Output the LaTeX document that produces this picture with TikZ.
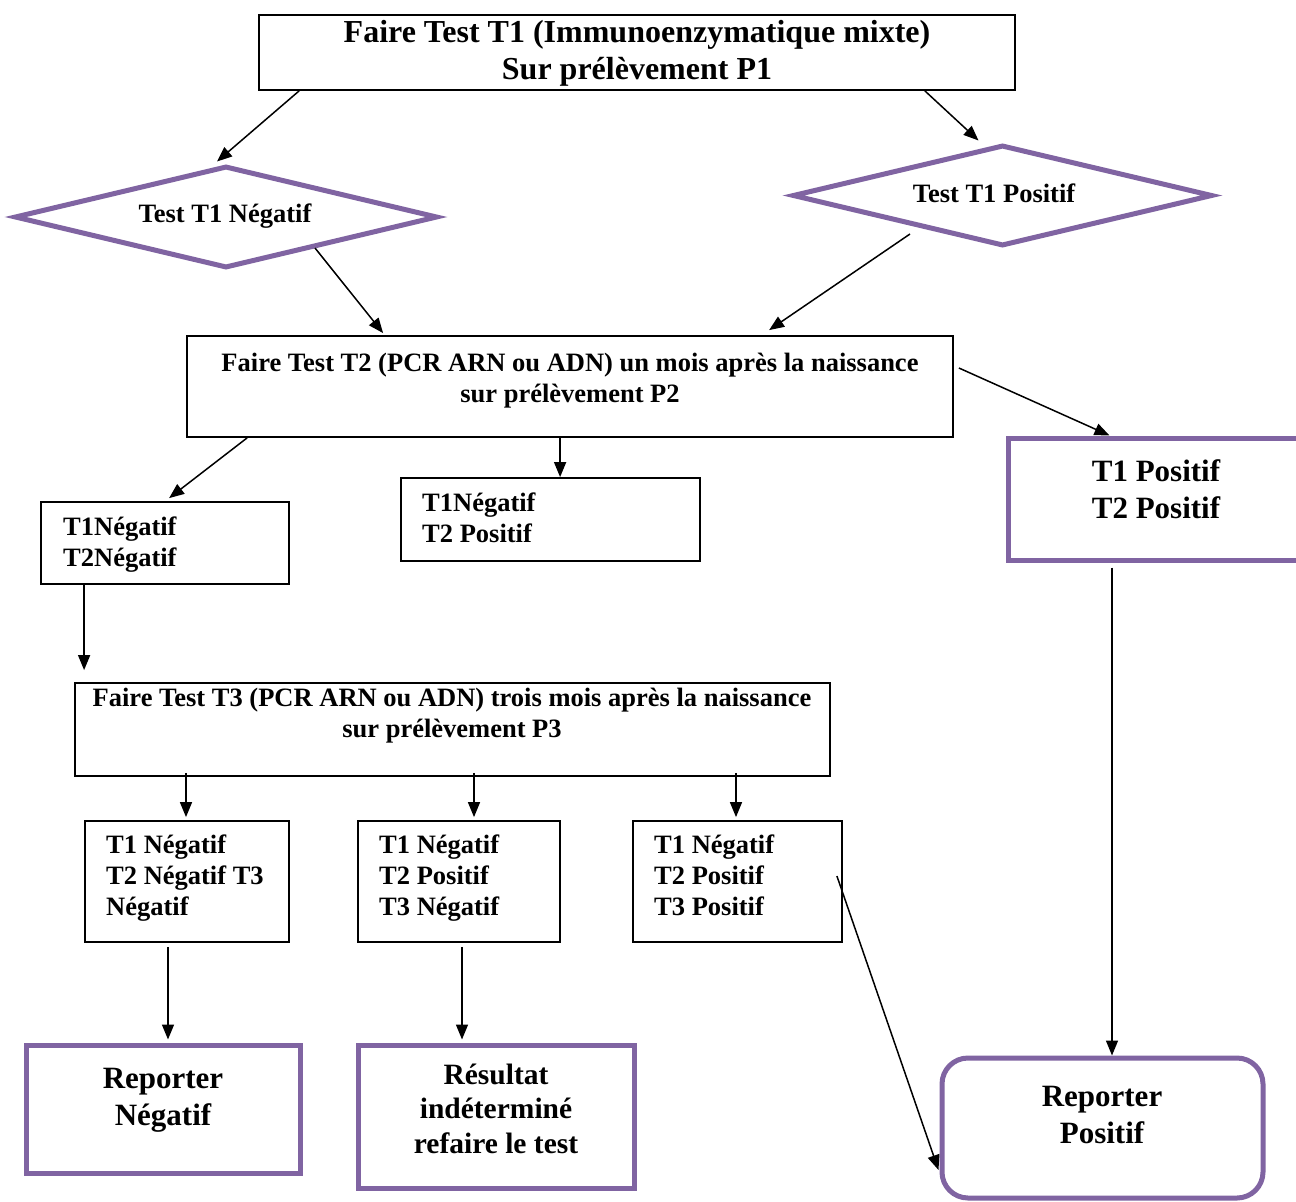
\documentclass[tikz,border=0pt]{standalone}
\usepackage{fontspec}
\setmainfont{Liberation Serif}
\usetikzlibrary{arrows.meta,shapes.geometric,calc}
\definecolor{vio}{RGB}{128,100,162}
\newcommand\fbig{\fontsize{31}{37}\selectfont\bfseries}
\newcommand\ftop{\fontsize{32}{37}\selectfont\bfseries}
\newcommand\fmid{\fontsize{29.5}{34.5}\selectfont\bfseries}
\newcommand\fsml{\fontsize{26.5}{31}\selectfont\bfseries}
\begin{document}
\begin{tikzpicture}[x=1pt,y=-1pt,
  bbox/.style={draw=black,line width=1.8pt,inner sep=0pt,rectangle,fill=none},
  pbox/.style={draw=vio,line width=5pt,inner sep=0pt,rectangle},
  diam/.style={draw=vio,line width=5pt,inner sep=0pt,diamond},
  arr/.style={line width=1.5pt,-{Triangle[length=15pt,width=12pt]}},
  txt/.style={inner sep=0pt}]
\useasboundingbox[fill=white] (0,0) rectangle (1296,1202);

% boxes
\node[bbox,minimum width=756pt,minimum height=75pt] (top) at (637,52.5) {};
\node[diam,minimum width=423pt,minimum height=102pt] (dn) at (226,217) {};
\node[diam,minimum width=420pt,minimum height=101pt] (dp) at (1002.5,195.5) {};
\node[bbox,minimum width=766pt,minimum height=101pt] (t2) at (570,386.5) {};
\node[pbox,minimum width=302pt,minimum height=122pt] (pp) at (1159,499) {};
\node[bbox,minimum width=248pt,minimum height=82pt] (nn) at (165,543) {};
\node[bbox,minimum width=299pt,minimum height=83pt] (np) at (550.5,519.5) {};
\node[bbox,minimum width=755pt,minimum height=93pt] (t3) at (452.5,729.5) {};
\node[bbox,minimum width=204pt,minimum height=121pt] (ba) at (187,881.5) {};
\node[bbox,minimum width=202pt,minimum height=121pt] (bb) at (459,881.5) {};
\node[bbox,minimum width=209pt,minimum height=121pt] (bc) at (737.5,881.5) {};
\node[pbox,minimum width=274pt,minimum height=128pt] (rn) at (163,1109) {};
\node[pbox,minimum width=276pt,minimum height=143pt] (ri) at (496,1116.5) {};
\node[pbox,rounded corners=26pt,minimum width=321pt,minimum height=140pt] (rp) at (1102.5,1128) {};

% texts (anchor=base is the baseline of the last line)
\node[txt,font=\ftop,align=center,anchor=base] (ttop) at (637,79) {Faire Test T1 (Immunoenzymatique mixte)\\Sur prélèvement P1};
\node[txt,font=\fsml,anchor=base] (tdn) at (225,222) {Test T1 Négatif};
\node[txt,font=\fsml,anchor=base] (tdp) at (994,202) {Test T1 Positif};
\node[txt,font=\fsml,align=center,anchor=base] (tt2) at (570,402) {Faire Test T2 (PCR ARN ou ADN) un mois après la naissance\\sur prélèvement P2};
\node[txt,font=\fbig,align=center,anchor=base] (tpp) at (1156,518) {T1 Positif\\T2 Positif};
\node[txt,font=\fsml,align=left,anchor=base west] (tnn) at (63,566) {T1Négatif\\T2Négatif};
\node[txt,font=\fsml,align=left,anchor=base west] (tnp) at (422,542) {T1Négatif\\T2 Positif};
\node[txt,font=\fsml,align=center,anchor=base] (tt3) at (452,737) {Faire Test T3 (PCR ARN ou ADN) trois mois après la naissance\\sur prélèvement P3};
\node[txt,font=\fsml,align=left,anchor=base west] (tba) at (106,915) {T1 Négatif\\T2 Négatif T3\\Négatif};
\node[txt,font=\fsml,align=left,anchor=base west] (tbb) at (379,915) {T1 Négatif\\T2 Positif\\T3 Négatif};
\node[txt,font=\fsml,align=left,anchor=base west] (tbc) at (654,915) {T1 Négatif\\T2 Positif\\T3 Positif};
\node[txt,font=\fbig,align=center,anchor=base] (trn) at (163,1125) {Reporter\\Négatif};
\node[txt,font=\fmid,align=center,anchor=base] (tri) at (496,1153) {Résultat\\indéterminé\\refaire le test};
\node[txt,font=\fbig,align=center,anchor=base] (trp) at (1102,1143) {Reporter\\Positif};

% connectors
\draw[arr] ([xshift=41pt]top.south west) -- ([xshift=-9pt,yshift=2pt]dn.north);
\draw[arr] ([xshift=-91pt]top.south east) -- ([xshift=-24pt,yshift=2pt]dp.north);
\draw[arr] ([xshift=89pt,yshift=-31pt]dn.center) -- ([xshift=197pt,yshift=2pt]t2.north west);
\draw[arr] ([xshift=-92.5pt,yshift=-38.5pt]dp.center) -- ([xshift=583pt,yshift=5pt]t2.north west);
\draw[arr] ([xshift=5pt,yshift=18.5pt]t2.east) -- ([xshift=104pt]pp.north west);
\draw[arr] ([xshift=61pt]t2.south west) -- ([xshift=129pt,yshift=3pt]nn.north west);
\coordinate (s0) at ([xshift=374pt]t2.south west);
\draw[arr] (s0) -- (s0 |- np.north);
\coordinate (s1) at ([xshift=44pt]nn.south west);
\coordinate (e1) at ($(s1 |- t3.north)+(0,-12)$);
\draw[arr] (s1) -- (e1);
\coordinate (sa) at ([xshift=-1pt,yshift=4pt]ba.north |- t3.south);
\coordinate (sb) at ([xshift=15pt,yshift=4pt]bb.north |- t3.south);
\coordinate (sc) at ([xshift=-1.5pt,yshift=4pt]bc.north |- t3.south);
\draw[arr] (sa) -- ($(sa |- ba.north)+(0,-3)$);
\draw[arr] (sb) -- ($(sb |- bb.north)+(0,-3)$);
\draw[arr] (sc) -- ($(sc |- bc.north)+(0,-3)$);
\coordinate (sr) at ([xshift=-19pt,yshift=-4pt]ba.south);
\coordinate (si) at ([xshift=3pt,yshift=-4pt]bb.south);
\draw[arr] (sr) -- ($(sr |- rn.north)+(0,-3)$);
\draw[arr] (si) -- ($(si |- ri.north)+(0,-3)$);
\draw[arr] ([xshift=-6pt,yshift=5.5pt]bc.east) -- ([xshift=-1pt,yshift=-42pt]rp.west);
\coordinate (sp) at ([xshift=106.5pt,yshift=-5pt]pp.south west);
\draw[arr] (sp) -- (sp |- rp.north);
\end{tikzpicture}
\end{document}
